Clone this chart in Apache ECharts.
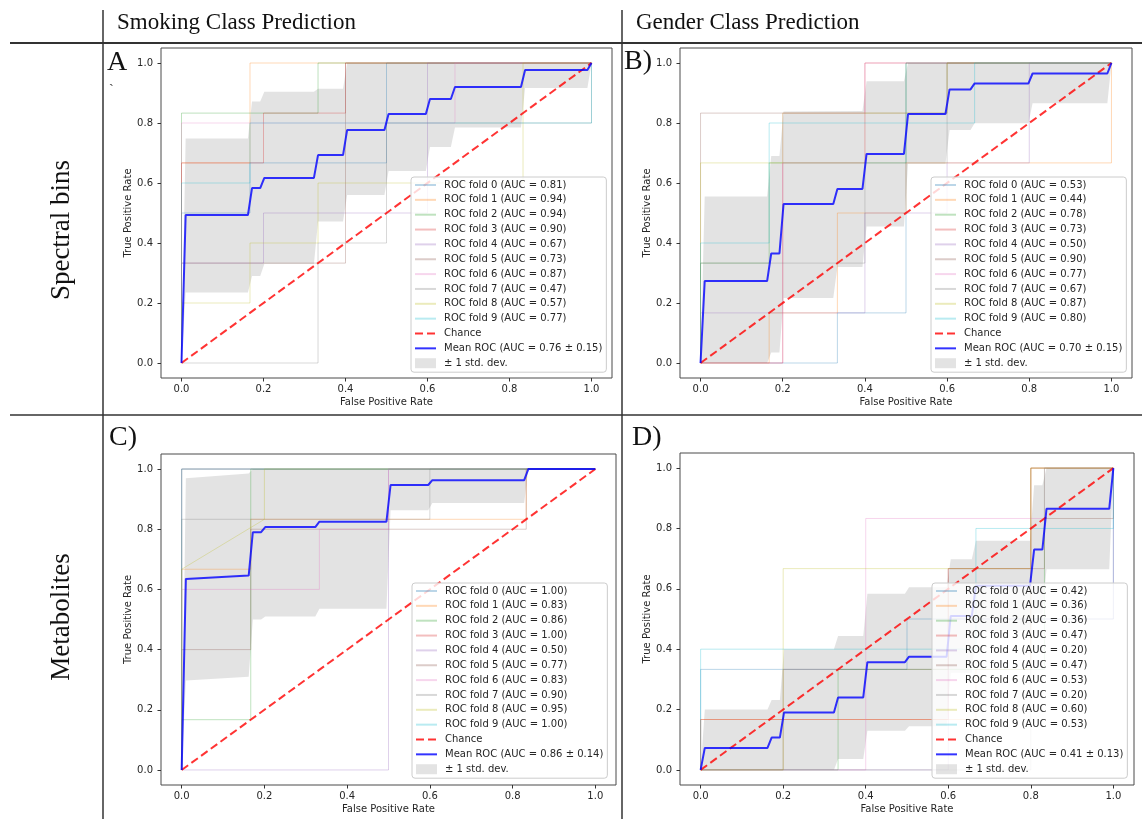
<!DOCTYPE html>
<html>
<head>
<meta charset="utf-8">
<script src="https://cdn.jsdelivr.net/npm/echarts@6/dist/echarts.min.js"></script>
<style>
html, body { margin: 0; padding: 0; background: #fff; }
#chart { width: 1142px; height: 819px; }
</style>
</head>
<body>
<div id="chart"></div>
<script>
// matplotlib tab10, one per fold
var foldColors = ['#1f77b4', '#ff7f0e', '#2ca02c', '#d62728', '#9467bd',
	'#8c564b', '#e377c2', '#7f7f7f', '#bcbd22', '#17becf'];
var tickValues = [0, 0.2, 0.4, 0.6, 0.8, 1.0];
var colTitles = ['Smoking Class Prediction', 'Gender Class Prediction'];
var rowTitles = ['Spectral bins', 'Metabolites'];
var panelLetters = ['A', 'B)', 'C)', 'D)'];
var chancePts = [[0, 0], [1, 1]];

// ---- A : smoking / spectral bins
var aucA = ['0.81', '0.94', '0.94', '0.90', '0.67', '0.73', '0.87', '0.47', '0.57', '0.77'];
var meanAucA = '0.76 ± 0.15';
var foldsA = [
	[[0, 0], [0, 0.5], [0.167, 0.5], [0.167, 0.667], [0.5, 0.667], [0.5, 1], [1, 1]],
	[[0, 0], [0, 0.667], [0.167, 0.667], [0.167, 1], [1, 1]],
	[[0, 0], [0, 0.833], [0.333, 0.833], [0.333, 1], [1, 1]],
	[[0, 0], [0, 0.667], [0.2, 0.667], [0.2, 0.833], [0.4, 0.833], [0.4, 1], [1, 1]],
	[[0, 0], [0, 0.333], [0.2, 0.333], [0.2, 0.5], [0.6, 0.5], [0.6, 1], [1, 1]],
	[[0, 0], [0, 0.333], [0.4, 0.333], [0.4, 1], [1, 1]],
	[[0, 0], [0, 0.8], [0.667, 0.8], [0.667, 1], [1, 1]],
	[[0, 0], [0.333, 0], [0.333, 0.4], [0.5, 0.4], [0.5, 0.8], [1, 0.8], [1, 1]],
	[[0, 0], [0, 0.2], [0.167, 0.2], [0.167, 0.4], [0.333, 0.4], [0.333, 0.6], [0.833, 0.6], [0.833, 1], [1, 1]],
	[[0, 0], [0, 0.6], [0.167, 0.6], [0.167, 0.8], [1, 0.8], [1, 1]]
];
var meanA = [[0, 0], [0.0101, 0.493], [0.162, 0.493], [0.172, 0.583], [0.192, 0.583], [0.202, 0.617],
	[0.323, 0.617], [0.333, 0.693], [0.394, 0.693], [0.404, 0.777], [0.495, 0.777], [0.505, 0.83],
	[0.596, 0.83], [0.606, 0.88], [0.657, 0.88], [0.667, 0.92], [0.828, 0.92], [0.838, 0.977],
	[0.99, 0.977], [1, 1]];
var upperA = [[0, 0], [0.0101, 0.748], [0.162, 0.748], [0.172, 0.872], [0.192, 0.872], [0.202, 0.904],
	[0.323, 0.904], [0.333, 0.914], [0.394, 0.914], [0.404, 1], [1, 1]];
var lowerA = [[0, 0], [0.0101, 0.235], [0.162, 0.235], [0.172, 0.29], [0.192, 0.29], [0.202, 0.33],
	[0.323, 0.33], [0.333, 0.472], [0.394, 0.472], [0.404, 0.56], [0.495, 0.56], [0.505, 0.64],
	[0.596, 0.64], [0.606, 0.72], [0.657, 0.72], [0.667, 0.785], [0.828, 0.785], [0.838, 0.917],
	[0.99, 0.917], [1, 1]];

// ---- B : gender / spectral bins
var aucB = ['0.53', '0.44', '0.78', '0.73', '0.50', '0.90', '0.77', '0.67', '0.87', '0.80'];
var meanAucB = '0.70 ± 0.15';
var foldsB = [
	[[0, 0], [0.333, 0], [0.333, 0.167], [0.5, 0.167], [0.5, 1], [1, 1]],
	[[0, 0], [0.167, 0], [0.167, 0.167], [0.333, 0.167], [0.333, 0.5], [0.5, 0.5], [0.5, 0.667], [1, 0.667], [1, 1]],
	[[0, 0], [0, 0.333], [0.167, 0.333], [0.167, 0.667], [0.5, 0.667], [0.5, 1], [1, 1]],
	[[0, 0], [0.2, 0], [0.2, 0.667], [0.4, 0.667], [0.4, 1], [1, 1]],
	[[0, 0], [0, 0.167], [0.4, 0.167], [0.4, 0.5], [0.6, 0.5], [0.6, 0.667], [0.8, 0.667], [0.8, 1], [1, 1]],
	[[0, 0], [0, 0.833], [0.6, 0.833], [0.6, 1], [1, 1]],
	[[0, 0], [0.2, 0], [0.2, 0.833], [0.4, 0.833], [0.4, 1], [1, 1]],
	[[0, 0], [0, 0.333], [0.4, 0.333], [0.4, 0.667], [0.6, 0.667], [0.6, 1], [1, 1]],
	[[0, 0], [0, 0.667], [0.2, 0.667], [0.2, 0.833], [0.6, 0.833], [0.6, 1], [1, 1]],
	[[0, 0], [0, 0.4], [0.167, 0.4], [0.167, 0.8], [0.667, 0.8], [0.667, 1], [1, 1]]
];
var meanB = [[0, 0], [0.0101, 0.273], [0.162, 0.273], [0.172, 0.365], [0.192, 0.365], [0.202, 0.53],
	[0.323, 0.53], [0.333, 0.58], [0.394, 0.58], [0.404, 0.697], [0.495, 0.697], [0.505, 0.83],
	[0.596, 0.83], [0.606, 0.912], [0.657, 0.912], [0.667, 0.932], [0.798, 0.932], [0.808, 0.965],
	[0.99, 0.965], [1, 1]];
var upperB = [[0, 0], [0.0101, 0.555], [0.162, 0.555], [0.172, 0.69], [0.192, 0.69], [0.202, 0.838],
	[0.394, 0.84], [0.404, 0.939], [0.495, 0.939], [0.505, 1], [1, 1]];
var lowerB = [[0, 0], [0.162, 0], [0.172, 0.035], [0.192, 0.035], [0.202, 0.217], [0.323, 0.217],
	[0.333, 0.32], [0.394, 0.32], [0.404, 0.455], [0.495, 0.455], [0.505, 0.664], [0.596, 0.664],
	[0.606, 0.777], [0.657, 0.777], [0.667, 0.799], [0.798, 0.799], [0.808, 0.866], [0.99, 0.866], [1, 1]];

// ---- C : smoking / metabolites
var aucC = ['1.00', '0.83', '0.86', '1.00', '0.50', '0.77', '0.83', '0.90', '0.95', '1.00'];
var meanAucC = '0.86 ± 0.14';
var foldsC = [
	[[0, 0], [0, 1], [1, 1]],
	[[0, 0], [0, 0.667], [0.167, 0.667], [0.167, 0.833], [0.833, 0.833], [0.833, 1], [1, 1]],
	[[0, 0], [0, 0.167], [0.167, 0.167], [0.167, 1], [1, 1]],
	[[0, 0], [0, 1], [1, 1]],
	[[0, 0], [0.5, 0], [0.5, 1], [1, 1]],
	[[0, 0], [0, 0.4], [0.167, 0.4], [0.167, 0.8], [0.833, 0.8], [0.833, 1], [1, 1]],
	[[0, 0], [0, 0.6], [0.333, 0.6], [0.333, 0.8], [0.5, 0.8], [0.5, 1], [1, 1]],
	[[0, 0], [0, 0.833], [0.6, 0.833], [0.6, 1], [1, 1]],
	[[0, 0], [0, 0.667], [0.2, 0.833], [0.2, 1], [1, 1]],
	[[0, 0], [0, 1], [1, 1]]
];
var meanC = [[0, 0], [0.0101, 0.635], [0.162, 0.646], [0.172, 0.79], [0.192, 0.79], [0.202, 0.807],
	[0.323, 0.807], [0.333, 0.825], [0.495, 0.825], [0.505, 0.947], [0.596, 0.947], [0.606, 0.963],
	[0.828, 0.963], [0.838, 1], [1, 1]];
var upperC = [[0, 0], [0.0101, 0.969], [0.162, 0.985], [0.172, 1], [1, 1]];
var lowerC = [[0, 0], [0.0101, 0.297], [0.162, 0.31], [0.172, 0.5], [0.192, 0.5], [0.202, 0.51],
	[0.323, 0.51], [0.333, 0.536], [0.495, 0.536], [0.505, 0.863], [0.596, 0.863], [0.606, 0.887],
	[0.828, 0.887], [0.838, 1], [1, 1]];

// ---- D : gender / metabolites
var aucD = ['0.42', '0.36', '0.36', '0.47', '0.20', '0.47', '0.53', '0.20', '0.60', '0.53'];
var meanAucD = '0.41 ± 0.13';
var foldsD = [
	[[0, 0], [0, 0.333], [0.5, 0.333], [0.5, 0.5], [1, 0.5], [1, 1]],
	[[0, 0], [0, 0.167], [0.667, 0.167], [0.667, 0.333], [0.8, 0.333], [0.8, 1], [1, 1]],
	[[0, 0], [0.333, 0], [0.333, 0.333], [0.833, 0.333], [0.833, 1], [1, 1]],
	[[0, 0], [0, 0.167], [0.6, 0.167], [0.6, 0.667], [0.8, 0.667], [0.8, 1], [1, 1]],
	[[0, 0], [0.6, 0], [0.6, 0.5], [1, 0.5], [1, 1]],
	[[0, 0], [0.2, 0], [0.2, 0.333], [0.6, 0.333], [0.6, 0.667], [0.833, 0.667], [0.833, 0.833], [1, 0.833], [1, 1]],
	[[0, 0], [0.4, 0], [0.4, 0.833], [0.833, 0.833], [0.833, 1], [1, 1]],
	[[0, 0], [0.8, 0], [0.8, 1], [1, 1]],
	[[0, 0], [0.2, 0], [0.2, 0.667], [0.8, 0.667], [0.8, 1], [1, 1]],
	[[0, 0], [0, 0.4], [0.667, 0.4], [0.667, 0.8], [1, 0.8], [1, 1]]
];
var meanD = [[0, 0], [0.0101, 0.073], [0.162, 0.073], [0.172, 0.107], [0.192, 0.107], [0.202, 0.19],
	[0.323, 0.19], [0.333, 0.24], [0.394, 0.24], [0.404, 0.357], [0.495, 0.357], [0.505, 0.375],
	[0.596, 0.375], [0.606, 0.51], [0.657, 0.51], [0.667, 0.61], [0.798, 0.61], [0.808, 0.73],
	[0.828, 0.73], [0.838, 0.865], [0.99, 0.865], [1, 1]];
var upperD = [[0, 0], [0.0101, 0.2], [0.162, 0.2], [0.172, 0.232], [0.192, 0.232], [0.202, 0.4],
	[0.323, 0.4], [0.333, 0.444], [0.394, 0.444], [0.404, 0.584], [0.495, 0.584], [0.505, 0.605],
	[0.596, 0.605], [0.606, 0.698], [0.657, 0.698], [0.667, 0.759], [0.798, 0.759], [0.808, 0.943],
	[0.828, 0.943], [0.838, 1], [1, 1]];
var lowerD = [[0, 0], [0.323, 0], [0.333, 0.036], [0.394, 0.036], [0.404, 0.13], [0.495, 0.13],
	[0.505, 0.145], [0.596, 0.145], [0.606, 0.322], [0.657, 0.322], [0.667, 0.461], [0.798, 0.461],
	[0.808, 0.517], [0.828, 0.517], [0.838, 0.665], [0.99, 0.665], [1, 1]];

// plot boxes (pixel) and legend corners, per panel
var gridBoxes = [
	{ left: 161, top: 48, width: 451, height: 330 },
	{ left: 680, top: 48, width: 452, height: 330 },
	{ left: 161, top: 454, width: 455, height: 331 },
	{ left: 680, top: 453, width: 454, height: 332 }
];
var legendPos = [[411, 177], [931, 177], [412, 583], [932, 583]];

var panels = [
	{ folds: foldsA, auc: aucA, mean: meanA, meanAuc: meanAucA, upper: upperA, lower: lowerA },
	{ folds: foldsB, auc: aucB, mean: meanB, meanAuc: meanAucB, upper: upperB, lower: lowerB },
	{ folds: foldsC, auc: aucC, mean: meanC, meanAuc: meanAucC, upper: upperC, lower: lowerC },
	{ folds: foldsD, auc: aucD, mean: meanD, meanAuc: meanAucD, upper: upperD, lower: lowerD }
];

var tickFont = { fontFamily: 'DejaVu Sans', fontSize: 10, color: '#262626' };
var bandColor = 'rgba(128,128,128,0.22)';
var grids = [], xAxes = [], yAxes = [], legends = [], series = [];

panels.forEach(function (p, i) {
	var g = gridBoxes[i];
	grids.push({
		left: g.left, top: g.top, width: g.width, height: g.height,
		show: true, borderColor: '#4a4a4a', borderWidth: 1, backgroundColor: '#fff',
		containLabel: false, outerBoundsMode: 'none'
	});
	xAxes.push({
		type: 'value', gridIndex: i, min: -0.05, max: 1.05,
		name: 'False Positive Rate', nameLocation: 'middle', nameGap: 19,
		nameTextStyle: tickFont,
		axisLine: { show: false, onZero: false },
		axisTick: { show: true, length: 3.5, customValues: tickValues, lineStyle: { color: '#333' } },
		axisLabel: {
			customValues: tickValues, margin: 6,
			formatter: function (v) { return v.toFixed(1); },
			fontFamily: tickFont.fontFamily, fontSize: 10, color: tickFont.color
		},
		splitLine: { show: false }
	});
	yAxes.push({
		type: 'value', gridIndex: i, min: -0.05, max: 1.05,
		name: 'True Positive Rate', nameLocation: 'middle', nameGap: 28, nameRotate: 90,
		nameTextStyle: tickFont,
		axisLine: { show: false, onZero: false },
		axisTick: { show: true, length: 3.5, customValues: tickValues, lineStyle: { color: '#333' } },
		axisLabel: {
			customValues: tickValues, margin: 8,
			formatter: function (v) { return v.toFixed(1); },
			fontFamily: tickFont.fontFamily, fontSize: 10, color: tickFont.color
		},
		splitLine: { show: false }
	});

	var names = [];
	p.folds.forEach(function (pts, k) {
		var nm = 'ROC fold ' + k + ' (AUC = ' + p.auc[k] + ')';
		names.push(nm);
		series.push({
			type: 'line', name: nm, xAxisIndex: i, yAxisIndex: i, data: pts,
			symbol: 'none', silent: true,
			lineStyle: { color: foldColors[k], width: 1, opacity: 0.3 },
			itemStyle: { color: foldColors[k], opacity: 0.3 }
		});
	});
	series.push({
		type: 'line', name: 'Chance', xAxisIndex: i, yAxisIndex: i, data: chancePts,
		symbol: 'none', silent: true,
		lineStyle: { color: '#ff0000', width: 2, opacity: 0.8, type: [8, 4] },
		itemStyle: { color: '#ff0000', opacity: 0.8 }
	});
	var meanName = 'Mean ROC (AUC = ' + p.meanAuc + ')';
	series.push({
		type: 'line', name: meanName, xAxisIndex: i, yAxisIndex: i, data: p.mean,
		symbol: 'none', silent: true,
		lineStyle: { color: '#0000ff', width: 2, opacity: 0.8 },
		itemStyle: { color: '#0000ff', opacity: 0.8 }
	});
	// std band: polygon through the upper edge, back along the lower edge
	series.push({
		type: 'custom', name: '± 1 std. dev.', xAxisIndex: i, yAxisIndex: i,
		data: [[0, 0]], silent: true,
		itemStyle: { color: bandColor },
		renderItem: (function (up, lo) {
			return function (params, api) {
				var pts = up.map(function (d) { return api.coord(d); });
				lo.slice().reverse().forEach(function (d) { pts.push(api.coord(d)); });
				return { type: 'polygon', shape: { points: pts }, style: { fill: bandColor } };
			};
		})(p.upper, p.lower)
	});

	// line handles only: hide the marker ECharts puts in the middle of a line icon
	var legendData = names.concat(['Chance', meanName]).map(function (n) {
		return { name: n, itemStyle: { opacity: 0 } };
	});
	legendData.push({ name: '± 1 std. dev.', icon: 'rect', itemStyle: { color: bandColor, opacity: 1 } });
	legends.push({
		left: legendPos[i][0], top: legendPos[i][1], orient: 'vertical',
		selectedMode: false, data: legendData,
		itemWidth: 21, itemHeight: 10, itemGap: 4.85,
		padding: [3, 4, 4, 3],
		backgroundColor: 'rgba(255,255,255,0.8)', borderColor: '#cccccc', borderWidth: 1, borderRadius: 3,
		textStyle: { fontFamily: 'DejaVu Sans', fontSize: 10, color: '#262626', padding: [0, 0, 0, 3] }
	});
});

// table rules, headers and panel letters
var serif = 'Liberation Serif';
var graphics = [
	{ type: 'line', shape: { x1: 10, y1: 43, x2: 1142, y2: 43 }, style: { stroke: '#333', lineWidth: 2 } },
	{ type: 'line', shape: { x1: 10, y1: 415, x2: 1142, y2: 415 }, style: { stroke: '#333', lineWidth: 1.5 } },
	{ type: 'line', shape: { x1: 103, y1: 10, x2: 103, y2: 819 }, style: { stroke: '#333', lineWidth: 1.5 } },
	{ type: 'line', shape: { x1: 622, y1: 10, x2: 622, y2: 819 }, style: { stroke: '#333', lineWidth: 1.5 } },
	{ type: 'text', x: 117, y: 23, style: { text: colTitles[0], font: '23px "' + serif + '"', fill: '#111', verticalAlign: 'middle' } },
	{ type: 'text', x: 636, y: 23, style: { text: colTitles[1], font: '23px "' + serif + '"', fill: '#111', verticalAlign: 'middle' } },
	{ type: 'text', x: 62, y: 230, rotation: Math.PI / 2, style: { text: rowTitles[0], font: '27px "' + serif + '"', fill: '#111', align: 'center', verticalAlign: 'middle' } },
	{ type: 'text', x: 62, y: 617, rotation: Math.PI / 2, style: { text: rowTitles[1], font: '27px "' + serif + '"', fill: '#111', align: 'center', verticalAlign: 'middle' } },
	{ type: 'text', x: 107, y: 63, style: { text: panelLetters[0], font: '28px "' + serif + '"', fill: '#111', verticalAlign: 'middle' } },
	{ type: 'text', x: 624, y: 62, style: { text: panelLetters[1], font: '28px "' + serif + '"', fill: '#111', verticalAlign: 'middle' } },
	{ type: 'text', x: 109, y: 438, style: { text: panelLetters[2], font: '28px "' + serif + '"', fill: '#111', verticalAlign: 'middle' } },
	{ type: 'text', x: 632, y: 438, style: { text: panelLetters[3], font: '28px "' + serif + '"', fill: '#111', verticalAlign: 'middle' } },
	{ type: 'text', x: 109, y: 90, style: { text: '`', font: '14px "' + serif + '"', fill: '#333', verticalAlign: 'middle' } }
];

var myChart = echarts.init(document.getElementById('chart'), null, { renderer: 'canvas' });
myChart.setOption({
	animation: false,
	backgroundColor: '#fff',
	grid: grids,
	xAxis: xAxes,
	yAxis: yAxes,
	legend: legends,
	series: series,
	graphic: graphics
});
</script>
</body>
</html>
